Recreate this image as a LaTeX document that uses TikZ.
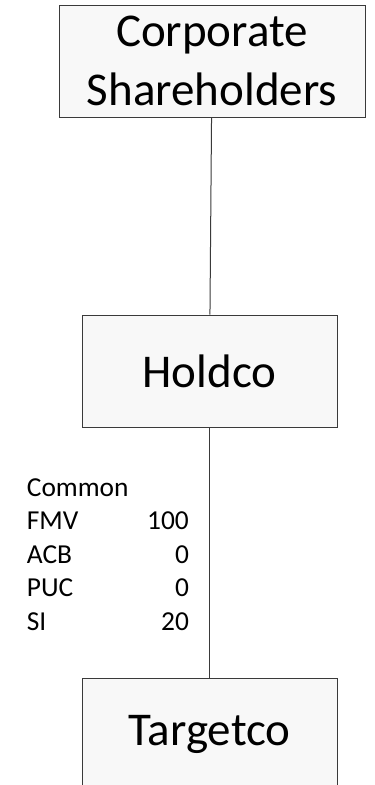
\documentclass[tikz,border=0pt]{standalone}
\usepackage{fontspec}
\setmainfont{Carlito}

\definecolor{boxfill}{HTML}{F8F8F8}
\definecolor{boxline}{HTML}{3A3A3A}
\tikzset{
  entity/.style={rectangle, draw=boxline, fill=boxfill, line width=1pt, inner sep=0pt,
    align=center, font=\fontsize{47}{59}\selectfont},
  link/.style={draw=boxline, line width=1pt},
}

\begin{document}
\begin{tikzpicture}[x=1pt, y=-1pt]
    \useasboundingbox (0,0) rectangle (375,785);

    % ノード
    \node[entity, minimum width=306pt, minimum height=112pt] (corp) at (212, 61) {Corporate\\Shareholders};
    \node[entity, minimum width=255pt, minimum height=112pt] (holdco) at (209.5, 371) {Holdco};
    \node[entity, minimum width=255pt, minimum height=112pt] (target) at (209.5, 734) {Targetco};

    % 株式の情報
    \node[anchor=base west, inner sep=0pt, font=\fontsize{27.4}{33.5}\selectfont] (shares) at (26.7, 496)
      {\begin{tabular*}{162pt}[t]{@{}l@{\extracolsep{\fill}}r@{}}
        Common & \\
        FMV & 100 \\
        ACB & 0 \\
        PUC & 0 \\
        SI & 20
      \end{tabular*}};

    % エッジ
    \draw[link] (corp) -- (holdco);
    \draw[link] (holdco) -- (target);
\end{tikzpicture}
\end{document}
